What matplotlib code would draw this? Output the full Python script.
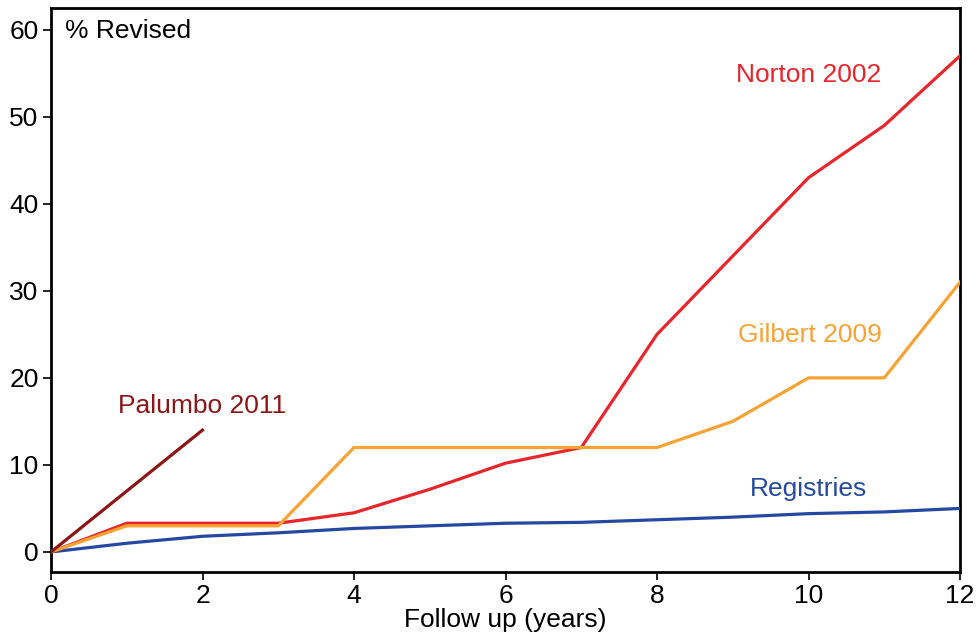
import matplotlib
matplotlib.use("Agg")
import matplotlib.pyplot as plt

years = list(range(13))
norton = [0, 3.3, 3.3, 3.3, 4.5, 7.2, 10.2, 12.0, 25.0, 34.0, 43.0, 49.0, 57.0]
gilbert = [0, 3.0, 3.0, 3.0, 12.0, 12.0, 12.0, 12.0, 12.0, 15.0, 20.0, 20.0, 31.0]
registries = [0, 1.0, 1.8, 2.2, 2.7, 3.0, 3.3, 3.4, 3.7, 4.0, 4.4, 4.6, 5.0]
palumbo_years = [0, 1, 2]
palumbo = [0, 7.0, 14.0]

plt.rcParams['font.family'] = ['Liberation Sans', 'DejaVu Sans']

fig = plt.figure(figsize=(9.79, 6.39), dpi=100)
ax = fig.add_axes([0.0521, 0.1049, 0.9285, 0.8826])

c_norton = '#e8252b'
c_gilbert = '#f7a232'
c_reg = '#2549a0'
c_pal = '#8c1515'

ax.plot(years, registries, color=c_reg, lw=2.3, zorder=3)
ax.plot(years, norton, color=c_norton, lw=2.3, zorder=4)
ax.plot(years, gilbert, color=c_gilbert, lw=2.3, zorder=5)
ax.plot(palumbo_years, palumbo, color=c_pal, lw=2.3, zorder=6)

fs = 19
ax.text(2.0, 16.8, 'Palumbo 2011', color=c_pal, fontsize=fs, ha='center', va='center')
ax.text(10.0, 54.8, 'Norton 2002', color=c_norton, fontsize=fs, ha='center', va='center')
ax.text(10.02, 24.9, 'Gilbert 2009', color=c_gilbert, fontsize=fs, ha='center', va='center')
ax.text(10.0, 7.2, 'Registries', color=c_reg, fontsize=fs, ha='center', va='center')
ax.text(0.015, 0.959, '% Revised', transform=ax.transAxes, fontsize=fs, ha='left', va='center')

ax.set_xlim(0, 12)
ax.set_ylim(-2.3, 62.5)
ax.set_xticks(range(0, 13, 2))
ax.set_yticks(range(0, 61, 10))
ax.tick_params(labelsize=fs, length=6, width=1.2, direction='out', pad=3)
ax.set_xlabel('Follow up (years)', fontsize=fs, labelpad=0)
for s in ax.spines.values():
    s.set_linewidth(2.0)

fig.savefig('out.png', dpi=100)
